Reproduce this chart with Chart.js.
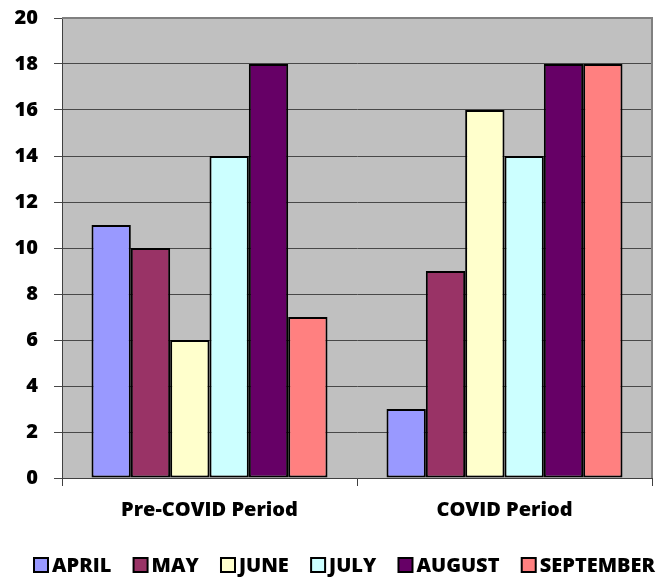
<!DOCTYPE html>
<html>
<head>
<meta charset="utf-8">
<script src="https://cdn.jsdelivr.net/npm/chart.js@4"></script>
<style>
  html, body { margin: 0; padding: 0; background: #ffffff; }
  #wrap { width: 661px; height: 577px; }
</style>
</head>
<body>
<div id="wrap"><canvas id="c" width="661" height="577"></canvas></div>
<script>
// Periods on the x axis
const periods = ['Pre-COVID Period', 'COVID Period'];
// Months shown as series
const months = ['APRIL', 'MAY', 'JUNE', 'JULY', 'AUGUST', 'SEPTEMBER'];
// Values per month: [Pre-COVID, COVID]
const april = [11, 3];
const may = [10, 9];
const june = [6, 16];
const july = [14, 14];
const august = [18, 18];
const september = [7, 18];
const monthColors = ['#9999FF', '#993366', '#FFFFCC', '#CCFFFF', '#660066', '#FF8080'];
const yTicks = [0, 2, 4, 6, 8, 10, 12, 14, 16, 18, 20];

const seriesValues = [april, may, june, july, august, september];

const fontFamily = '"Open Sans", Lato, sans-serif';
const fontSize = 20;
const fontWeight = 800;

// Gray plot background and frame
const plotFrame = {
  id: 'plotFrame',
  beforeDraw(chart) {
    const { ctx, chartArea: a } = chart;
    ctx.save();
    ctx.fillStyle = '#C0C0C0';
    ctx.fillRect(a.left, a.top, a.right - a.left, a.bottom - a.top);
    ctx.restore();
  },
  afterDatasetsDraw(chart) {
    const { ctx, chartArea: a } = chart;
    ctx.save();
    ctx.strokeStyle = '#808080';
    ctx.lineWidth = 2;
    ctx.beginPath();
    ctx.moveTo(a.left, a.top);
    ctx.lineTo(a.right, a.top);
    ctx.lineTo(a.right, a.bottom);
    ctx.stroke();
    ctx.restore();
  }
};

// Legend row under the axis: square swatch, small gap, bold label,
// spread between a left and right edge
const bottomLegend = {
  id: 'bottomLegend',
  afterDraw(chart) {
    const { ctx } = chart;
    const box = 14, gap = 4;
    const left = 34, right = 655, centerY = 565;
    ctx.save();
    ctx.font = `${fontWeight} ${fontSize}px ${fontFamily}`;
    ctx.textBaseline = 'middle';
    ctx.textAlign = 'left';
    const items = chart.data.datasets.map(ds => ({
      text: ds.label, color: ds.backgroundColor, w: ctx.measureText(ds.label).width
    }));
    const used = items.reduce((s, it) => s + box + gap + it.w, 0);
    const spacing = (right - left - used) / (items.length - 1);
    let x = left;
    items.forEach(it => {
      ctx.fillStyle = it.color;
      ctx.fillRect(x, centerY - box / 2, box, box);
      ctx.strokeStyle = '#000000';
      ctx.lineWidth = 2;
      ctx.strokeRect(x, centerY - box / 2, box, box);
      ctx.fillStyle = '#000000';
      ctx.fillText(it.text, x + box + gap, centerY + 1);
      x += box + gap + it.w + spacing;
    });
    ctx.restore();
  }
};

new Chart(document.getElementById('c'), {
  type: 'bar',
  data: {
    labels: periods,
    datasets: months.map((m, i) => ({
      label: m,
      data: seriesValues[i],
      backgroundColor: monthColors[i],
      borderColor: '#000000',
      borderWidth: 2,
      borderSkipped: false,
      categoryPercentage: 0.8,
      barPercentage: 1.0
    }))
  },
  options: {
    responsive: false,
    animation: false,
    devicePixelRatio: 1,
    layout: { padding: { top: 18, right: 9, left: 0, bottom: 39 } },
    plugins: {
      legend: { display: false },
      tooltip: { enabled: false }
    },
    scales: {
      x: {
        grid: {
          display: true,
          drawOnChartArea: false,
          drawTicks: true,
          tickLength: 8,
          color: '#404040',
          offset: true
        },
        border: { display: true, color: '#404040', width: 1 },
        ticks: {
          color: '#000000',
          font: { family: fontFamily, size: fontSize, weight: fontWeight },
          padding: 12
        },
        afterFit(scale) { scale.height = 60; }
      },
      y: {
        min: 0,
        max: 20,
        afterBuildTicks(scale) { scale.ticks = yTicks.map(v => ({ value: v })); },
        grid: {
          color: '#484848',
          lineWidth: 1,
          drawTicks: true,
          tickLength: 8
        },
        border: { display: true, color: '#404040', width: 1 },
        ticks: {
          color: '#000000',
          font: { family: fontFamily, size: fontSize, weight: fontWeight, lineHeight: 0.5 },
          padding: 16
        },
        afterFit(scale) {
          scale.width = 62;
          scale.paddingTop = 0;
        }
      }
    }
  },
  plugins: [plotFrame, bottomLegend]
});
</script>
</body>
</html>
